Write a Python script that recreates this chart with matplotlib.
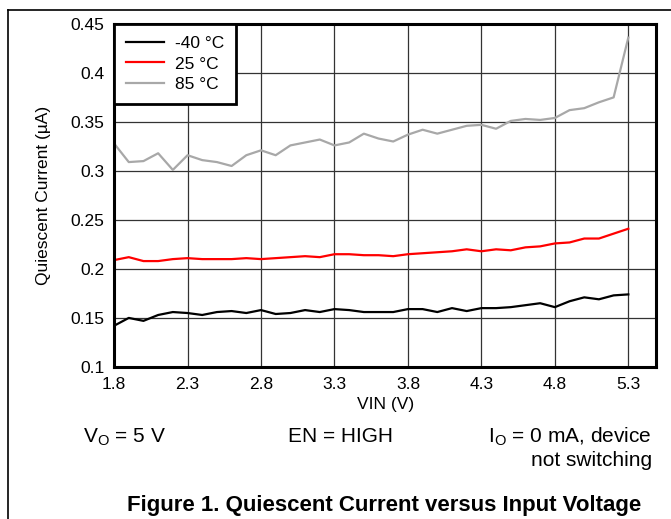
import numpy as np
import matplotlib
matplotlib.use("Agg")
import matplotlib.pyplot as plt
from matplotlib.lines import Line2D

plt.rcParams["font.family"] = ["Liberation Sans", "DejaVu Sans"]

# datos
vin = [1.8, 1.9, 2.0, 2.1, 2.2, 2.3, 2.4, 2.5, 2.6, 2.7, 2.8, 2.9, 3.0,
       3.1, 3.2, 3.3, 3.4, 3.5, 3.6, 3.7, 3.8, 3.9, 4.0, 4.1, 4.2, 4.3,
       4.4, 4.5, 4.6, 4.7, 4.8, 4.9, 5.0, 5.1, 5.2, 5.3]
iq_m40 = [0.142, 0.150, 0.147, 0.153, 0.156, 0.155, 0.153, 0.156, 0.157, 0.155,
          0.158, 0.154, 0.155, 0.158, 0.156, 0.159, 0.158, 0.156, 0.156, 0.156,
          0.159, 0.159, 0.156, 0.160, 0.157, 0.160, 0.160, 0.161, 0.163, 0.165,
          0.161, 0.167, 0.171, 0.169, 0.173, 0.174]
iq_25 = [0.209, 0.212, 0.208, 0.208, 0.210, 0.211, 0.210, 0.210, 0.210, 0.211,
         0.210, 0.211, 0.212, 0.213, 0.212, 0.215, 0.215, 0.214, 0.214, 0.213,
         0.215, 0.216, 0.217, 0.218, 0.220, 0.218, 0.220, 0.219, 0.222, 0.223,
         0.226, 0.227, 0.231, 0.231, 0.236, 0.241]
iq_85 = [0.328, 0.309, 0.310, 0.318, 0.301, 0.316, 0.311, 0.309, 0.305, 0.316,
         0.321, 0.316, 0.326, 0.329, 0.332, 0.326, 0.329, 0.338, 0.333, 0.330,
         0.337, 0.342, 0.338, 0.342, 0.346, 0.347, 0.343, 0.351, 0.353, 0.352,
         0.354, 0.362, 0.364, 0.370, 0.375, 0.436]
etiquetas = ["-40 °C", "25 °C", "85 °C"]
xticks = [1.8, 2.3, 2.8, 3.3, 3.8, 4.3, 4.8, 5.3]
yticks = [0.1, 0.15, 0.2, 0.25, 0.3, 0.35, 0.4, 0.45]

fig = plt.figure(figsize=(6.71, 5.19), dpi=100)
ax = fig.add_axes([0.170, 0.293, 0.808, 0.661])

ax.plot(vin, iq_m40, color="black", lw=1.6, label=etiquetas[0])
ax.plot(vin, iq_25, color="#ff0000", lw=1.6, label=etiquetas[1])
ax.plot(vin, iq_85, color="#a8a8a8", lw=1.6, label=etiquetas[2])

ax.set_xlim(1.8, 5.49)
ax.set_ylim(0.1, 0.45)
ax.set_xticks(xticks)
ax.set_xticklabels([str(t) for t in xticks])
ax.set_yticks(yticks)
ax.set_yticklabels(["0.1", "0.15", "0.2", "0.25", "0.3", "0.35", "0.4", "0.45"])
ax.tick_params(length=0, labelsize=12.5, pad=7)
ax.grid(True, color="#333333", lw=0.9)
ax.set_axisbelow(True)
for s in ax.spines.values():
    s.set_linewidth(2.2)
    s.set_color("black")

ax.set_xlabel("VIN (V)", fontsize=12.5, labelpad=4)
ax.set_ylabel("Quiescent Current (µA)", fontsize=12.5, labelpad=14)

leg = ax.legend(loc="upper left", fontsize=12.5, fancybox=False, framealpha=1,
                borderaxespad=0, handlelength=2.2, borderpad=0.7, labelspacing=0.3,
                handletextpad=0.6)
leg.get_frame().set_edgecolor("black")
leg.get_frame().set_linewidth(2.0)

# textos de condiciones
fig.text(83 / 671, 1 - 437 / 519, r"V$_\mathregular{O}$ = 5 V", fontsize=15, va="center", ha="left")
fig.text(340 / 671, 1 - 437 / 519, "EN = HIGH", fontsize=15, va="center", ha="center")
fig.text(652 / 671, 1 - 437 / 519, r"I$_\mathregular{O}$ = 0 mA, device", fontsize=15, va="center", ha="right")
fig.text(652 / 671, 1 - 460 / 519, "not switching", fontsize=15, va="center", ha="right")
fig.text(384 / 671, 1 - 505 / 519, "Figure 1. Quiescent Current versus Input Voltage",
         fontsize=16, fontweight="bold", va="center", ha="center")

# marco exterior
fig.add_artist(Line2D([8 / 671, 8 / 671], [0, 1 - 10 / 519], color="black", lw=1.2))
fig.add_artist(Line2D([8 / 671, 1], [1 - 10 / 519, 1 - 10 / 519], color="black", lw=1.2))

fig.savefig("out.png", dpi=100)
